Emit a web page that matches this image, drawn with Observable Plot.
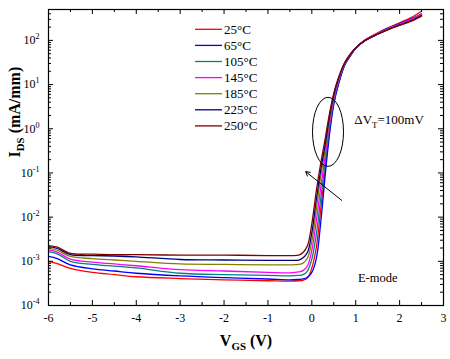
<!DOCTYPE html>
<html><head><meta charset="utf-8">
<script src="https://cdn.jsdelivr.net/npm/d3@7"></script>
<script src="https://cdn.jsdelivr.net/npm/@observablehq/plot@0.6"></script>
<style>
html,body{margin:0;padding:0;background:#fff;}
#chart svg{display:block;}
</style></head><body><div id="chart"></div>
<script>
// ---- data ----
const vgs = [-6, -5.8, -5.5, -5, -4.5, -4, -3, -2, -1, -0.5, -0.3, -0.2, -0.1, 0, 0.1, 0.2, 0.3, 0.4, 0.5, 0.6, 0.75, 0.9, 1.0, 1.2, 1.5, 1.75, 2.0, 2.25, 2.5];
const temperatures = ["25°C", "65°C", "105°C", "145°C", "185°C", "225°C", "250°C"];
const seriesColors = ["#ff0000", "#0000ff", "#008080", "#ff00ff", "#808000", "#000080", "#800000"];
const ids_25C  = [1.00e-3, 8.91e-4, 6.92e-4, 5.62e-4, 5.01e-4, 4.47e-4, 4.07e-4, 3.80e-4, 3.63e-4, 3.55e-4, 3.63e-4, 3.72e-4, 4.17e-4, 7.08e-4, 2.00e-3, 1.41e-2, 0.112, 0.832, 3.80, 10.0, 28.2, 49.0, 66.1, 100, 148, 195, 251, 324, 457];
const ids_65C  = [1.29e-3, 1.15e-3, 8.32e-4, 6.76e-4, 6.03e-4, 5.37e-4, 4.68e-4, 4.27e-4, 3.98e-4, 3.80e-4, 3.89e-4, 3.98e-4, 4.37e-4, 5.62e-4, 1.12e-3, 7.08e-3, 7.94e-2, 0.708, 3.55, 9.55, 27.5, 47.9, 66.1, 97.7, 145, 191, 240, 302, 398];
const ids_105C = [1.66e-3, 1.48e-3, 1.00e-3, 8.51e-4, 7.76e-4, 7.08e-4, 5.37e-4, 5.01e-4, 4.79e-4, 4.68e-4, 4.79e-4, 5.01e-4, 6.03e-4, 1.12e-3, 3.98e-3, 2.51e-2, 0.158, 1.05, 4.27, 11.0, 28.8, 49.0, 66.1, 97.7, 141, 182, 229, 288, 380];
const ids_145C = [1.82e-3, 1.62e-3, 1.12e-3, 9.55e-4, 8.71e-4, 7.94e-4, 6.46e-4, 6.03e-4, 5.62e-4, 5.50e-4, 5.75e-4, 6.17e-4, 7.94e-4, 1.78e-3, 7.94e-3, 4.47e-2, 0.224, 1.26, 4.79, 11.7, 29.5, 50.1, 67.6, 100, 145, 186, 234, 295, 389];
const ids_185C = [2.00e-3, 1.78e-3, 1.29e-3, 1.15e-3, 1.07e-3, 1.00e-3, 8.71e-4, 8.51e-4, 8.32e-4, 8.32e-4, 8.51e-4, 9.12e-4, 1.17e-3, 2.82e-3, 1.41e-2, 7.94e-2, 0.316, 1.51, 5.37, 12.6, 30.2, 51.3, 67.6, 97.7, 141, 182, 229, 282, 372];
const ids_225C = [2.14e-3, 1.95e-3, 1.41e-3, 1.35e-3, 1.32e-3, 1.26e-3, 1.10e-3, 1.07e-3, 1.05e-3, 1.05e-3, 1.07e-3, 1.20e-3, 1.58e-3, 4.47e-3, 2.40e-2, 0.112, 0.417, 1.78, 5.89, 13.2, 30.9, 51.3, 67.6, 97.7, 138, 178, 224, 275, 363];
const ids_250C = [2.26e-3, 2.09e-3, 1.51e-3, 1.45e-3, 1.41e-3, 1.41e-3, 1.38e-3, 1.38e-3, 1.35e-3, 1.35e-3, 1.38e-3, 1.58e-3, 2.24e-3, 7.08e-3, 3.80e-2, 0.158, 0.562, 2.14, 6.31, 13.5, 31.6, 52.5, 67.6, 97.7, 138, 178, 219, 269, 355];
const xTicks = [-6, -5, -4, -3, -2, -1, 0, 1, 2, 3];
const xMinorTicks = [-5.5, -4.5, -3.5, -2.5, -1.5, -0.5, 0.5, 1.5, 2.5];
const yTicks = [1e-4, 1e-3, 1e-2, 1e-1, 1, 10, 100];
const yTickLabels = ["10^{-4}", "10^{-3}", "10^{-2}", "10^{-1}", "10^{0}", "10^{1}", "10^{2}"];
const xLabel = "V_{GS} (V)";
const yLabel = "I_{DS} (mA/mm)";
const noteDeltaVT = "ΔV_{T}=100mV";
const noteMode = "E-mode";
const notePositions = {deltaVT: {vgs: 1.76, ids: 1.6}, mode: {vgs: 1.5, ids: 4.3e-4}};
const ellipseCenter = {vgs: 0.38, ids: 0.83};
const arrowData = [{x1: 0.68, y1: 0.024, x2: -0.14, y2: 0.107}];

// ---- table ----
const allSeries = [ids_25C, ids_65C, ids_105C, ids_145C, ids_185C, ids_225C, ids_250C];
const rows = [];
allSeries.forEach((s, k) => s.forEach((v, i) => rows.push({T: temperatures[k], vgs: vgs[i], ids: v})));

// ---- layout ----
const W = 450, H = 359, mL = 48, mR = 7, mT = 9, mB = 54;
const fW = W - mL - mR, fH = H - mT - mB;
const FONT = "'Liberation Serif','Times New Roman',serif";
const yMinor = [];
for (const d of [1e-4, 1e-3, 1e-2, 1e-1, 1, 10, 100]) for (let k = 2; k <= 9; k++) if (d * k <= 500) yMinor.push(d * k);

function legendMark(index, scales, values, dims) {
  const g = d3.create("svg:g").attr("font-family", FONT).attr("font-size", 13).attr("text-anchor", "start");
  const lx = 195, ly = 29.3, row = 16.1;
  temperatures.forEach((t, i) => {
    const y = ly + i * row;
    g.append("line").attr("x1", lx).attr("x2", lx + 27).attr("y1", y).attr("y2", y)
      .attr("stroke", seriesColors[i]).attr("stroke-width", 1.3);
    g.append("text").attr("x", lx + 29).attr("y", y).attr("dy", "0.35em")
      .attr("text-anchor", "start").attr("fill", "black").text(t);
  });
  return g.node();
}
function ellipseMark(index, scales) {
  const cx = scales.x(ellipseCenter.vgs), cy = scales.y(ellipseCenter.ids);
  return d3.create("svg:ellipse").attr("cx", cx).attr("cy", cy).attr("rx", 15.5).attr("ry", 34.5)
    .attr("fill", "none").attr("stroke", "black").attr("stroke-width", 1).node();
}

const chart = Plot.plot({
  width: W, height: H,
  marginLeft: mL, marginRight: mR, marginTop: mT, marginBottom: mB,
  style: {fontFamily: FONT, fontSize: "12px", background: "white", color: "black", overflow: "visible"},
  x: {domain: [-6, 3]},
  y: {type: "log", domain: [1e-4, 500]},
  color: {domain: temperatures, range: seriesColors},
  marks: [
    Plot.line(rows, {x: "vgs", y: "ids", z: "T", stroke: "T", strokeWidth: 1.3, curve: "catmull-rom"}),
    // inward ticks on four sides
    Plot.tickX(xTicks, {x: d => d, insetTop: fH - 5, stroke: "black"}),
    Plot.tickX(xTicks, {x: d => d, insetBottom: fH - 5, stroke: "black"}),
    Plot.tickX(xMinorTicks, {x: d => d, insetTop: fH - 3, stroke: "black"}),
    Plot.tickX(xMinorTicks, {x: d => d, insetBottom: fH - 3, stroke: "black"}),
    Plot.tickY(yTicks, {y: d => d, insetRight: fW - 5, stroke: "black"}),
    Plot.tickY(yTicks, {y: d => d, insetLeft: fW - 5, stroke: "black"}),
    Plot.tickY(yMinor, {y: d => d, insetRight: fW - 3, stroke: "black"}),
    Plot.tickY(yMinor, {y: d => d, insetLeft: fW - 3, stroke: "black"}),
    Plot.axisX(xTicks, {tickSize: 0, tickPadding: 8, tickFormat: d => String(d), label: null, fontSize: 12}),
    Plot.axisY(yTicks, {tickSize: 0, tickPadding: 9, tickFormat: d => yTickLabels[yTicks.indexOf(d)], label: null, fontSize: 12}),
    Plot.frame({stroke: "black", strokeWidth: 1.2}),
    Plot.text([xLabel], {frameAnchor: "bottom", dy: 40, fontWeight: "bold", fontSize: 16, text: d => d}),
    Plot.text([yLabel], {frameAnchor: "left", dx: -34, rotate: -90, fontWeight: "bold", fontSize: 16, text: d => d}),
    Plot.text([noteDeltaVT], {x: () => notePositions.deltaVT.vgs, y: () => notePositions.deltaVT.ids, text: d => d, fontSize: 13}),
    Plot.text([noteMode], {x: () => notePositions.mode.vgs, y: () => notePositions.mode.ids, text: d => d, fontSize: 12.5}),
    Plot.arrow(arrowData, {x1: "x1", y1: "y1", x2: "x2", y2: "y2", stroke: "black", strokeWidth: 1, headLength: 7}),
    ellipseMark,
    legendMark
  ]
});
document.getElementById("chart").appendChild(chart);

// rich text: _{sub} and ^{sup}
function richify(svg) {
  svg.querySelectorAll("text").forEach(t => {
    const s = t.textContent;
    if (!/[_^]\{/.test(s)) return;
    const fs = parseFloat(getComputedStyle(t).fontSize) || 12;
    while (t.firstChild) t.removeChild(t.firstChild);
    const re = /([_^])\{([^}]*)\}|([^_^]+)/g;
    let m, shift = 0;
    while ((m = re.exec(s))) {
      const ts = document.createElementNS("http://www.w3.org/2000/svg", "tspan");
      if (m[3] !== undefined) {
        ts.textContent = m[3];
        if (shift) { ts.setAttribute("dy", -shift); shift = 0; }
      } else {
        const d = m[1] === "_" ? fs * 0.3 : -fs * 0.42;
        ts.setAttribute("dy", d);
        ts.setAttribute("font-size", fs * 0.68);
        ts.textContent = m[2];
        shift = d;
      }
      t.appendChild(ts);
    }
  });
}
richify(chart);
</script></body></html>
